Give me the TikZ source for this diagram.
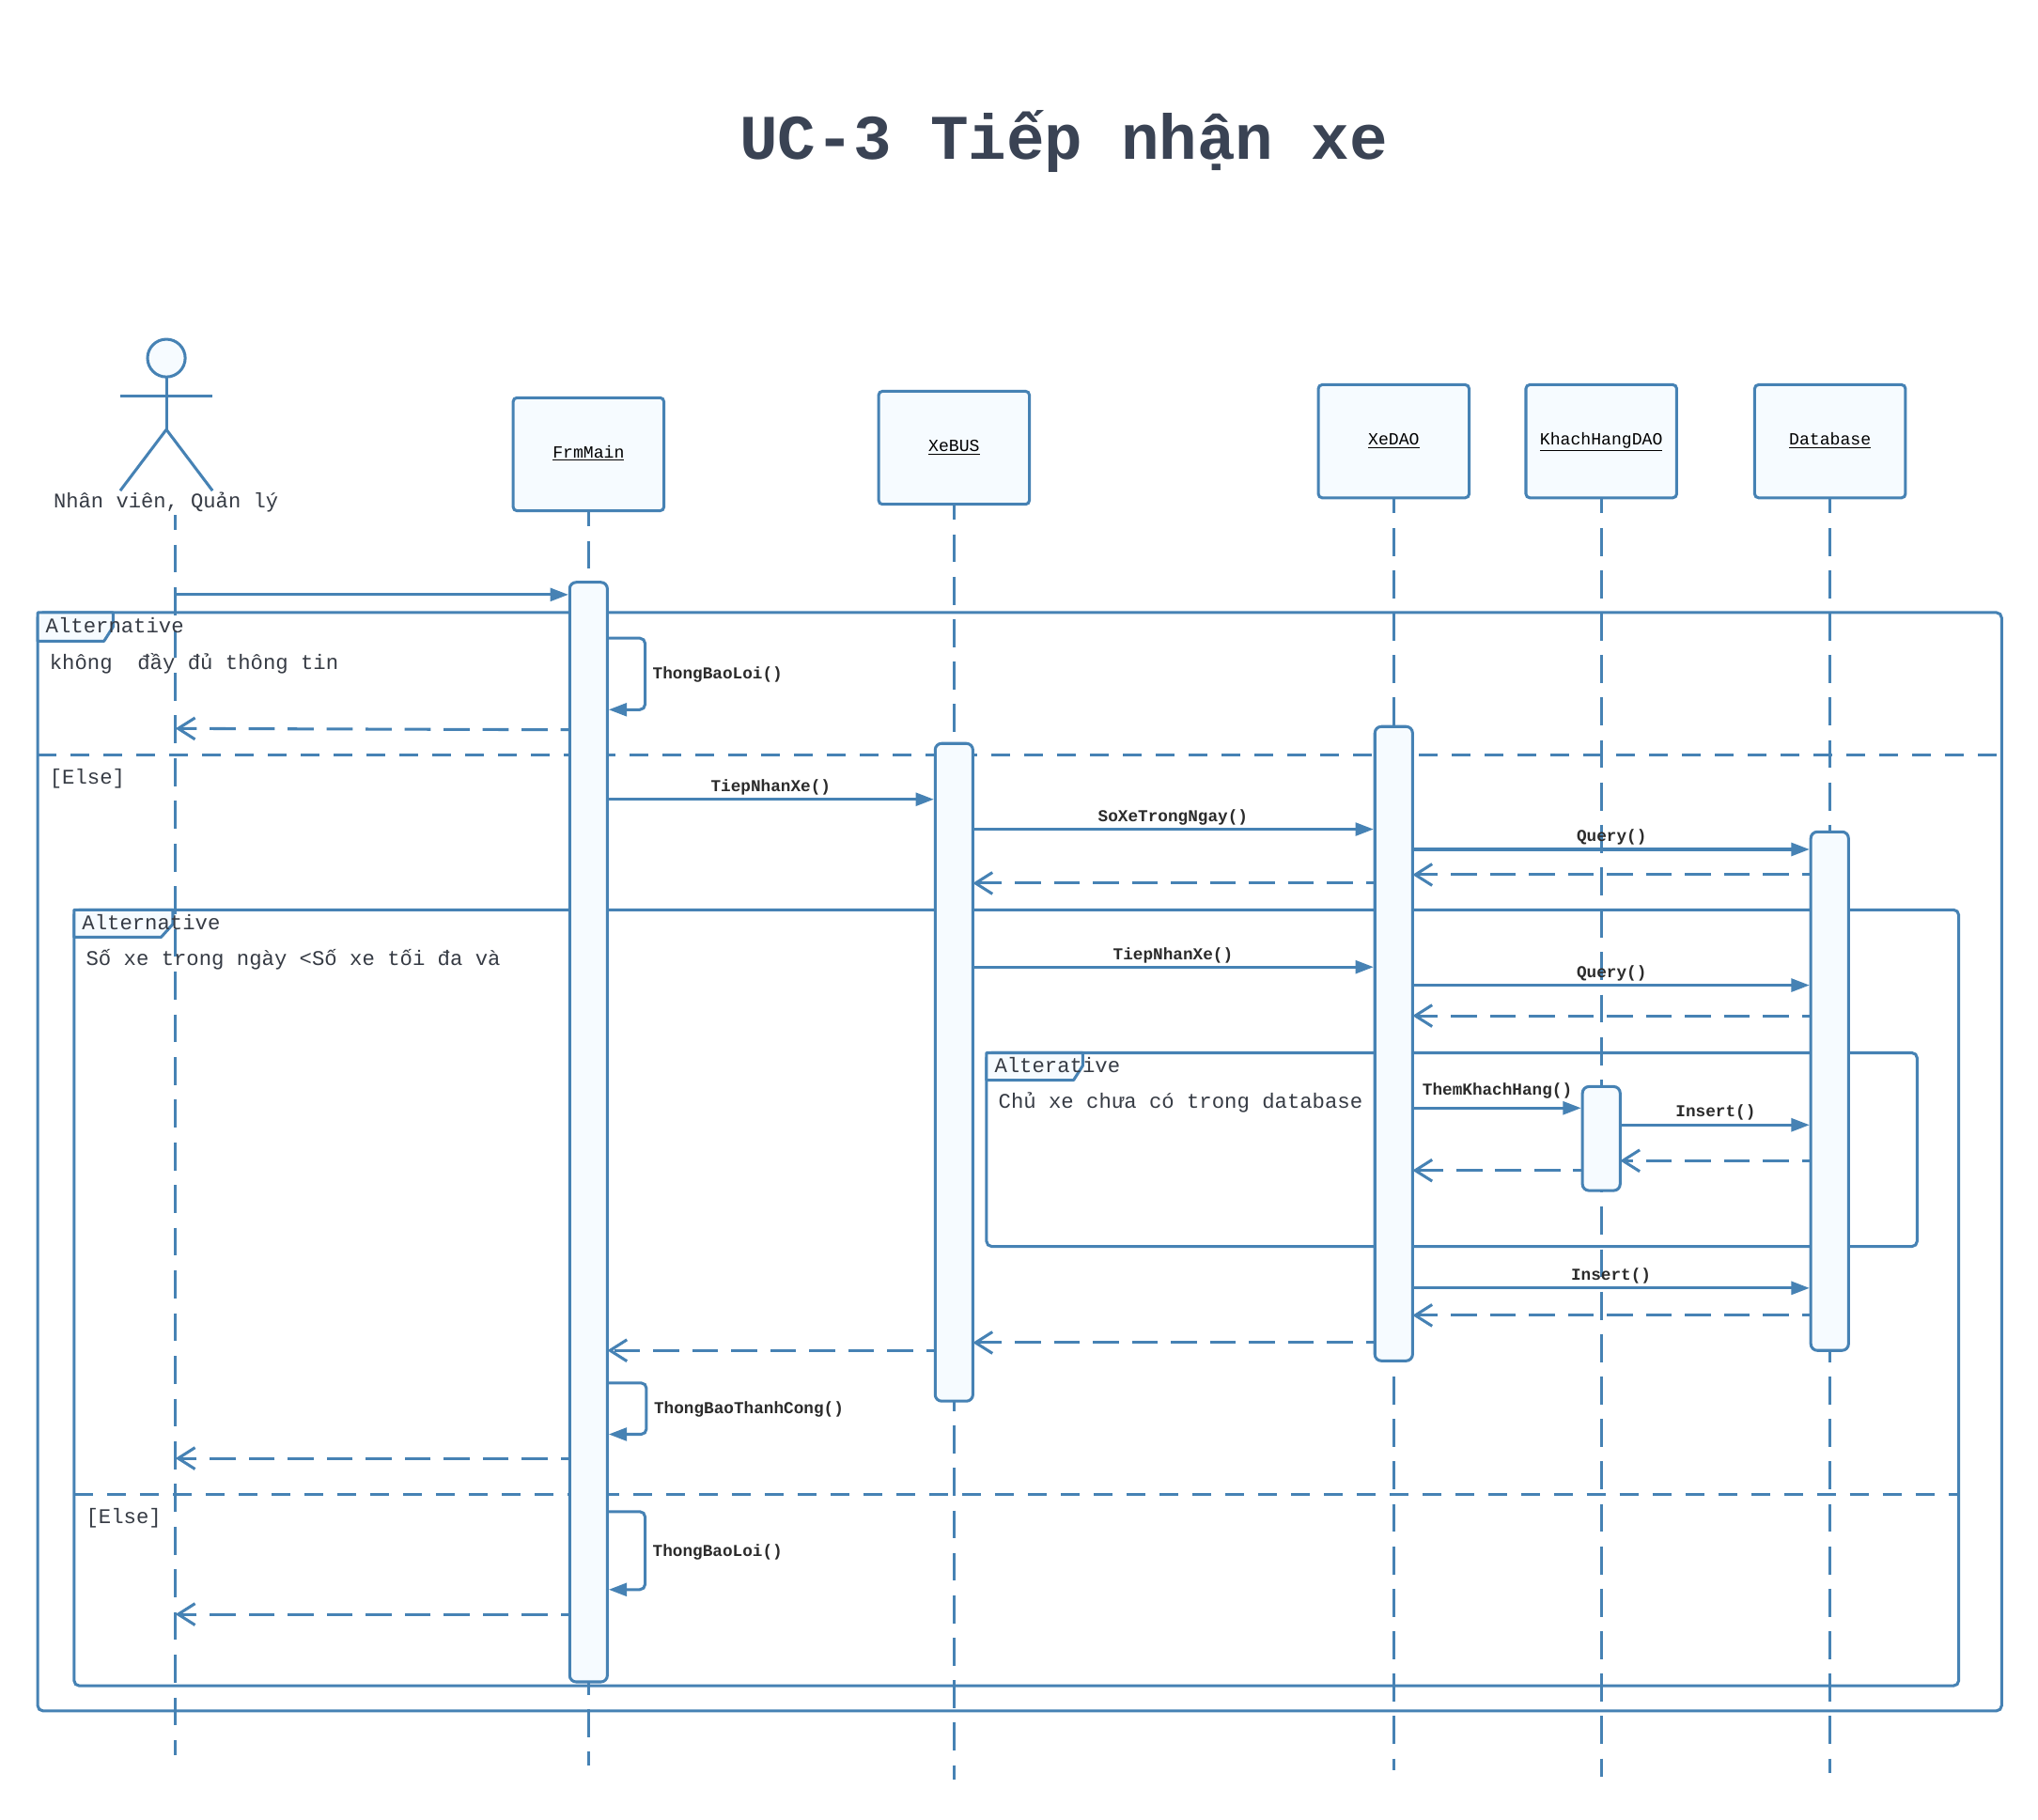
\documentclass[tikz,border=0pt]{standalone}
\usepackage{fontspec}
\setmainfont{Liberation Mono}
\usetikzlibrary{arrows.meta,calc}
\definecolor{ln}{HTML}{4682B4}
\definecolor{fl}{HTML}{F6FBFF}
\definecolor{tx}{HTML}{3A4354}
\definecolor{dk}{HTML}{2B2B2B}
\definecolor{gy}{HTML}{363B44}
\tikzset{
  lnbase/.style={draw=ln,line width=2.2pt},
  objbox/.style={lnbase,fill=fl,rounded corners=3pt,minimum width=116pt,inner sep=0pt,outer sep=0pt,text=black,text height=9pt,text depth=3pt,font=\fontsize{13.1}{15}\selectfont},
  bar/.style={lnbase,fill=fl,rounded corners=5pt,minimum width=29pt,inner sep=0pt,outer sep=0pt},
  framebox/.style={lnbase,rounded corners=4pt,inner sep=0pt,outer sep=0pt,anchor=north west},
  tabshape/.style={lnbase,fill=fl,line join=round},
  life/.style={draw=ln,line width=2.2pt,dash pattern=on 21.5pt off 11.15pt,dash phase=9.5pt},
  actorlife/.style={draw=ln,line width=2.2pt,dash pattern=on 21.5pt off 11.35pt,dash phase=10.2pt},
  lowlife/.style={draw=ln,line width=2.2pt,dash pattern=on 21.5pt off 11pt,dash phase=11.5pt},
  divider/.style={draw=ln,line width=2.2pt,dash pattern=on 14.5pt off 10.8pt},
  msg/.style={draw=ln,line width=2.2pt,shorten >=1pt,-{Triangle[length=14pt,width=10pt,fill=ln]}},
  ret/.style={draw=ln,line width=2.2pt,dash pattern=on 20pt off 10pt,dash phase=13pt,-{Straight Barb[length=13pt,width=16.5pt]}},
  selfmsg/.style={msg,rounded corners=4pt},
  lab/.style={inner sep=0pt,text=dk,font=\fontsize{12.8}{15}\bfseries\selectfont},
  ftext/.style={inner sep=0pt,anchor=base west,text=gy,font=\fontsize{16.1}{18}\selectfont},
}
\begin{document}
\begin{tikzpicture}[x=1pt,y=-1pt]
\path[use as bounding box,fill=white] (0,0) rectangle (1568,1400);
\node[text=tx,inner sep=0pt,font=\fontsize{48.9}{54}\bfseries\selectfont] (title) at (818.5,108.5) {UC-3 Tiếp nhận xe};

% frames
\node[framebox,minimum width=1511pt,minimum height=845pt] (f1) at (29,471.3) {};
\node[framebox,minimum width=1450pt,minimum height=597pt] (f2) at (57,700) {};
\node[framebox,minimum width=716pt,minimum height=149pt] (f3) at (759,810) {};
\draw[tabshape] (f1.north west) -- ++(58,0) -- ++(0,11) -- ++(-7,11) -- ++(-51,0) -- cycle;
\draw[tabshape] (f2.north west) -- ++(76,0) -- ++(0,11) -- ++(-9,10) -- ++(-67,0) -- cycle;
\draw[tabshape] (f3.north west) -- ++(74,0) -- ++(0,10) -- ++(-7,11) -- ++(-67,0) -- cycle;
\draw[divider] (f1.west |- 0,581) -- (f1.east |- 0,581);
\draw[divider] (f2.west |- 0,1150) -- (f2.east |- 0,1150);

% actor
\node[lnbase,fill=fl,circle,minimum size=29pt,inner sep=0pt,outer sep=0pt] (head) at (128,275.5) {};
\coordinate (hip) at (128,330.5);
\coordinate (armL) at (92.5,304.5);
\coordinate (armR) at (163.5,304.5);
\coordinate (footL) at (92.5,377.5);
\coordinate (footR) at (163.5,377.5);
\draw[lnbase] (head.south) -- (hip);
\draw[lnbase] (armL) -- (armR);
\draw[lnbase] (footL) -- (hip) -- (footR);
\node[inner sep=0pt,anchor=base,text=gy,font=\fontsize{16}{18}\selectfont] (actor) at (127.7,391) {Nhân viên, Quản lý};

% objects
\node[objbox,minimum height=87pt] (frmobj) at (452.8,349.5) {\underline{FrmMain}};
\node[objbox,minimum height=87pt] (busobj) at (734,344.5) {\underline{XeBUS}};
\node[objbox,minimum height=87pt] (daoobj) at (1072.3,339.5) {\underline{XeDAO}};
\node[objbox,minimum height=87pt] (khobj) at (1232,339.5) {\underline{KhachHangDAO}};
\node[objbox,minimum height=87pt] (dbobj) at (1408,339.5) {\underline{Database}};

% lifeline end points
\coordinate (actTop) at (135,396.4);
\coordinate (actEnd) at (135,1350.6);
\coordinate (frmTop) at (452.8,448);
\coordinate (frmLow) at (452.8,1294);
\coordinate (frmEnd) at (452.8,1358);
\coordinate (busEnd) at (734,1369);
\coordinate (daoEnd) at (1072.3,1362);
\coordinate (khEnd) at (1232,1367);
\coordinate (dbEnd) at (1408,1364);
\draw[actorlife] (actTop) -- (actEnd);
\draw[life] (frmobj.south) -- (frmTop);
\draw[lowlife] (frmLow) -- (frmEnd);
\draw[life] (busobj.south) -- (busEnd);
\draw[life] (daoobj.south) -- (daoEnd);
\draw[life] (khobj.south) -- (khEnd);
\draw[life] (dbobj.south) -- (dbEnd);

% activation bars
\node[bar,minimum height=846pt] (frm) at (452.8,871) {};
\node[bar,minimum height=506pt] (bus) at (734,825) {};
\node[bar,minimum height=488pt] (dao) at (1072.3,803) {};
\node[bar,minimum height=80pt] (kh) at (1232,876) {};
\node[bar,minimum height=399pt] (db) at (1407.7,839.5) {};

% frame texts
\node[ftext] (t1) at (35,487) {Alternative};
\node[ftext] (t2) at (38,515) {không\ \ đầy đủ thông tin};
\node[ftext] (t3) at (38,603) {[Else]};
\node[ftext] (t4) at (63,715) {Alternative};
\node[ftext] (t5) at (66,743) {Số xe trong ngày <Số xe tối đa và};
\node[ftext] (t6) at (765,825) {Alterative};
\node[ftext] (t7) at (768,853) {Chủ xe chưa có trong database};
\node[ftext] (t8) at (66,1172) {[Else]};

% messages
\draw[msg] (actTop |- 0,457.5) -- (frm.west |- 0,457.5);
\draw[selfmsg] (frm.east |- 0,491) -- ++(29,0) -- ++(0,55) -- (frm.east |- 0,546);
\node[lab,anchor=west] (m1) at (502,519) {ThongBaoLoi()};
\draw[ret] (frm.west |- 0,561.5) -- (actTop |- 0,560.5);
\draw[msg] (frm.east |- 0,615) -- (bus.west |- 0,615);
\node[lab] (m2) at (593,605.5) {TiepNhanXe()};
\draw[msg] (bus.east |- 0,638) -- (dao.west |- 0,638);
\node[lab] (m3) at (902.5,629) {SoXeTrongNgay()};
\draw[msg] (dao.east |- 0,653.5) -- (db.west |- 0,653.5);
\node[lab] (m4) at (1240,644) {Query()};
\draw[ret] (db.west |- 0,673) -- (dao.east |- 0,673);
\draw[ret] (dao.west |- 0,679.5) -- (bus.east |- 0,679.5);
\draw[msg] (bus.east |- 0,744) -- (dao.west |- 0,744);
\node[lab] (m5) at (902.5,735) {TiepNhanXe()};
\draw[msg] (dao.east |- 0,758) -- (db.west |- 0,758);
\node[lab] (m6) at (1240,749) {Query()};
\draw[ret] (db.west |- 0,781.5) -- (dao.east |- 0,781.5);
\draw[msg] (dao.east |- 0,852.5) -- (kh.west |- 0,852.5);
\node[lab] (m7) at (1152,839.5) {ThemKhachHang()};
\draw[msg] (kh.east |- 0,865.5) -- (db.west |- 0,865.5);
\node[lab] (m8) at (1320,855.5) {Insert()};
\draw[ret] (db.west |- 0,893) -- (kh.east |- 0,893);
\draw[ret] (kh.west |- 0,900.5) -- (dao.east |- 0,900.5);
\draw[msg] (dao.east |- 0,991) -- (db.west |- 0,991);
\node[lab] (m9) at (1239.5,981.5) {Insert()};
\draw[ret] (db.west |- 0,1012) -- (dao.east |- 0,1012);
\draw[ret] (dao.west |- 0,1033) -- (bus.east |- 0,1033);
\draw[ret] (bus.west |- 0,1039) -- (frm.east |- 0,1039);
\draw[selfmsg] (frm.east |- 0,1064) -- ++(30,0) -- ++(0,39.5) -- (frm.east |- 0,1103.5);
\node[lab,anchor=west] (m10) at (503,1084.5) {ThongBaoThanhCong()};
\draw[ret] (frm.west |- 0,1122) -- (actTop |- 0,1122);
\draw[selfmsg] (frm.east |- 0,1163) -- ++(29,0) -- ++(0,60) -- (frm.east |- 0,1223);
\node[lab,anchor=west] (m11) at (502,1194) {ThongBaoLoi()};
\draw[ret] (frm.west |- 0,1242) -- (actTop |- 0,1242);
\end{tikzpicture}
\end{document}
